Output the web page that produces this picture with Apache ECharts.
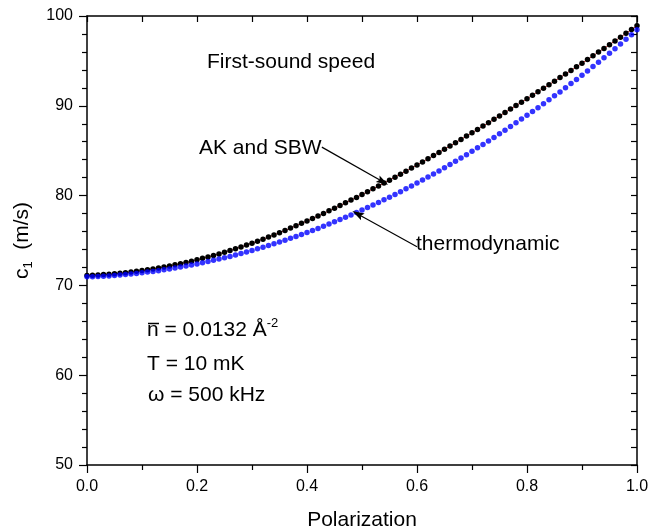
<!DOCTYPE html>
<html>
<head>
<meta charset="utf-8">
<script src="https://cdn.jsdelivr.net/npm/echarts@6/dist/echarts.min.js"></script>
<style>
html,body{margin:0;padding:0;background:#fff;}
#chart{width:650px;height:529px;}
</style>
</head>
<body>
<div id="chart"></div>
<script>
const polarization = [0.00,0.01,0.02,0.03,0.04,0.05,0.06,0.07,0.08,0.09,
0.10,0.11,0.12,0.13,0.14,0.15,0.16,0.17,0.18,0.19,
0.20,0.21,0.22,0.23,0.24,0.25,0.26,0.27,0.28,0.29,
0.30,0.31,0.32,0.33,0.34,0.35,0.36,0.37,0.38,0.39,
0.40,0.41,0.42,0.43,0.44,0.45,0.46,0.47,0.48,0.49,
0.50,0.51,0.52,0.53,0.54,0.55,0.56,0.57,0.58,0.59,
0.60,0.61,0.62,0.63,0.64,0.65,0.66,0.67,0.68,0.69,
0.70,0.71,0.72,0.73,0.74,0.75,0.76,0.77,0.78,0.79,
0.80,0.81,0.82,0.83,0.84,0.85,0.86,0.87,0.88,0.89,
0.90,0.91,0.92,0.93,0.94,0.95,0.96,0.97,0.98,0.99,1.00];

const akSbw = [71.10,71.13,71.16,71.20,71.24,71.29,71.35,71.42,71.49,71.57,
71.65,71.74,71.84,71.94,72.05,72.17,72.29,72.42,72.56,72.70,
72.85,73.01,73.17,73.34,73.51,73.69,73.88,74.08,74.28,74.49,
74.70,74.92,75.15,75.38,75.62,75.87,76.12,76.38,76.64,76.91,
77.18,77.45,77.73,78.01,78.30,78.59,78.89,79.19,79.50,79.80,
80.11,80.43,80.75,81.07,81.39,81.72,82.05,82.39,82.72,83.06,
83.41,83.75,84.10,84.46,84.81,85.17,85.53,85.89,86.26,86.63,
86.99,87.37,87.74,88.11,88.49,88.87,89.25,89.63,90.02,90.40,
90.79,91.18,91.57,91.96,92.35,92.74,93.14,93.54,93.94,94.34,
94.75,95.15,95.56,95.98,96.39,96.81,97.22,97.64,98.07,98.49,98.92];

const thermodynamic = [70.95,70.97,71.00,71.03,71.06,71.11,71.15,71.21,71.27,71.33,
71.40,71.48,71.56,71.64,71.73,71.83,71.93,72.04,72.15,72.27,
72.39,72.52,72.65,72.79,72.93,73.08,73.23,73.39,73.55,73.72,
73.89,74.07,74.25,74.44,74.63,74.83,75.03,75.24,75.45,75.67,
75.89,76.12,76.35,76.59,76.83,77.08,77.33,77.59,77.85,78.12,
78.39,78.67,78.95,79.24,79.53,79.83,80.13,80.44,80.76,81.08,
81.40,81.73,82.07,82.41,82.75,83.11,83.46,83.83,84.19,84.56,
84.94,85.32,85.70,86.09,86.48,86.88,87.28,87.69,88.10,88.52,
88.94,89.36,89.79,90.23,90.66,91.11,91.55,92.01,92.47,92.93,
93.41,93.88,94.37,94.86,95.35,95.86,96.36,96.88,97.40,97.92,98.46];

const xTicks = [0.0, 0.2, 0.4, 0.6, 0.8, 1.0];
const yTicks = [50, 60, 70, 80, 90, 100];

const arrowAk = [[0.427, 85.4], [0.538, 81.55]];
const arrowThermo = [[0.600, 74.3], [0.492, 77.95]];

const FONT = '"Liberation Sans", Arial, Helvetica, sans-serif';
const chart = echarts.init(document.getElementById('chart'), null, {renderer: 'canvas'});

const axisLineStyle = {color: '#000', width: 1.5};
function xAxisCfg(pos) {
  const bottom = pos === 'bottom';
  return {
    type: 'value', position: pos,
    min: xTicks[0], max: xTicks[xTicks.length - 1], interval: xTicks[1] - xTicks[0],
    name: bottom ? 'Polarization' : '',
    nameLocation: 'middle', nameGap: 45,
    nameTextStyle: {fontFamily: FONT, fontSize: 21, color: '#000'},
    axisLine: {show: true, onZero: false, lineStyle: axisLineStyle},
    axisTick: {show: true, inside: !bottom, length: bottom ? 8 : 6, lineStyle: {color: '#000', width: 1.2}},
    minorTick: {show: true, splitNumber: 2, length: bottom ? 5 : 6, lineStyle: {color: '#000', width: 1.2}},
    axisLabel: {show: bottom, margin: 14, fontFamily: FONT, fontSize: 16, color: '#000',
      formatter: v => v.toFixed(1)},
    splitLine: {show: false}
  };
}
function yAxisCfg(pos) {
  const left = pos === 'left';
  return {
    type: 'value', position: pos,
    min: yTicks[0], max: yTicks[yTicks.length - 1], interval: yTicks[1] - yTicks[0],
    name: left ? '{c|c}{s|1}{n|  (m/s)}' : '',
    nameLocation: 'middle', nameGap: 51, nameRotate: 90,
    nameTextStyle: {fontFamily: FONT, fontSize: 21, color: '#000',
      rich: {
        c: {fontFamily: FONT, fontSize: 21, color: '#000', lineHeight: 26},
        s: {fontFamily: FONT, fontSize: 13, color: '#000', verticalAlign: 'bottom', lineHeight: 26},
        n: {fontFamily: FONT, fontSize: 21, color: '#000', lineHeight: 26}
      }},
    axisLine: {show: true, onZero: false, lineStyle: axisLineStyle},
    axisTick: {show: true, inside: !left, length: left ? 8 : 6, lineStyle: {color: '#000', width: 1.2}},
    minorTick: {show: true, splitNumber: 5, length: left ? 5 : 6, lineStyle: {color: '#000', width: 1.2}},
    axisLabel: {show: left, margin: 14, fontFamily: FONT, fontSize: 16, color: '#000'},
    splitLine: {show: false}
  };
}

const textStyleBase = {font: '21px ' + FONT, fill: '#000', textVerticalAlign: 'middle'};
const ARROW = 'path://M5,0 L10,16 L5,13 L0,16 Z';

const option = {
  animation: false,
  backgroundColor: '#fff',
  grid: {left: 87, right: 13, top: 16, bottom: 64, containLabel: false, outerBoundsMode: 'none'},
  xAxis: [xAxisCfg('bottom'), xAxisCfg('top')],
  yAxis: [yAxisCfg('left'), yAxisCfg('right')],
  series: [
    {
      name: 'AK and SBW', type: 'line', xAxisIndex: 0, yAxisIndex: 0,
      data: polarization.map((x, i) => [x, akSbw[i]]),
      showSymbol: true, showAllSymbol: true, symbol: 'circle', symbolSize: 5.5,
      itemStyle: {color: '#000'},
      lineStyle: {color: '#e00000', width: 0.8},
      z: 3,
      markLine: {
        silent: true, symbol: ['none', ARROW], symbolSize: 12, symbolKeepAspect: true,
        label: {show: false},
        lineStyle: {color: '#000', width: 1.2, type: 'solid'},
        data: [
          [{coord: arrowAk[0]}, {coord: arrowAk[1]}],
          [{coord: arrowThermo[0]}, {coord: arrowThermo[1]}]
        ]
      }
    },
    {
      name: 'thermodynamic', type: 'scatter', xAxisIndex: 0, yAxisIndex: 0,
      data: polarization.map((x, i) => [x, thermodynamic[i]]),
      symbol: 'circle', symbolSize: 5.5,
      itemStyle: {color: '#0000ff'},
      z: 4
    }
  ],
  graphic: [
    {type: 'text', x: 207, y: 62, style: Object.assign({text: 'First-sound speed'}, textStyleBase)},
    {type: 'text', x: 199, y: 148, style: Object.assign({text: 'AK and SBW'}, textStyleBase)},
    {type: 'text', x: 416, y: 244, style: Object.assign({text: 'thermodynamic'}, textStyleBase)},
    {type: 'text', x: 147, y: 329, style: {
      text: '{a|n = 0.0132 Å}{s|-2}',
      textVerticalAlign: 'middle',
      rich: {
        a: {fontFamily: FONT, fontSize: 21, color: '#000', lineHeight: 24, verticalAlign: 'bottom'},
        s: {fontFamily: FONT, fontSize: 13, color: '#000', lineHeight: 24, verticalAlign: 'top'}
      }
    }},
    {type: 'line', shape: {x1: 148, y1: 323.5, x2: 159, y2: 323.5}, style: {stroke: '#000', lineWidth: 1.5}},
    {type: 'text', x: 147, y: 364, style: Object.assign({text: 'T = 10 mK'}, textStyleBase)},
    {type: 'text', x: 148, y: 395, style: Object.assign({text: 'ω = 500 kHz'}, textStyleBase)}
  ]
};
chart.setOption(option);
</script>
</body>
</html>
